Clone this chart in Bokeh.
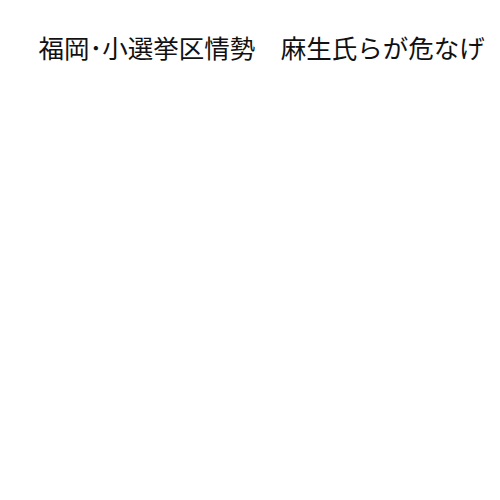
from bokeh.plotting import figure
from bokeh.embed import file_html
from bokeh.resources import INLINE

# the reference holds only a headline, no plotted marks
region = "福岡･小選挙区情勢"
headline = "麻生氏らが危なげ"

p = figure(width=492, height=484, output_backend="svg", toolbar_location=None,
           title=region + "　" + headline, min_border_left=0, min_border_right=0,
           min_border_top=0, min_border_bottom=0)
p.title.text_font = "Noto Sans CJK JP"
p.title.text_font_size = "25.5px"
p.title.text_font_style = "normal"
p.title.text_color = "#111111"
p.title.align = "left"
p.title.offset = 38
p.title.padding = dict(left=0, right=0, top=20, bottom=0)
p.axis.visible = False
p.grid.visible = False
p.outline_line_color = None
p.background_fill_color = "white"
p.border_fill_color = "white"

open("out.html", "w").write(file_html(p, INLINE))
